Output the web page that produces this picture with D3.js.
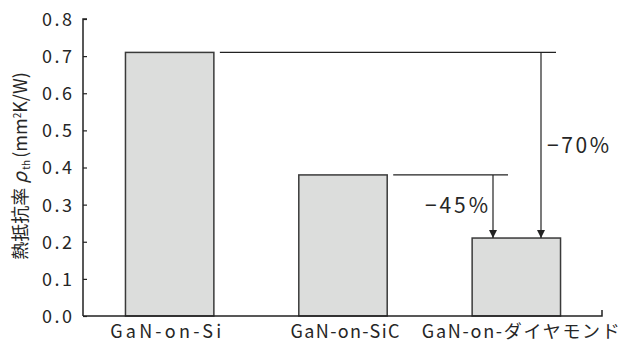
<!DOCTYPE html>
<html><head><meta charset="utf-8">
<script src="https://cdn.jsdelivr.net/npm/d3@7/dist/d3.min.js"></script>
<style>
body{margin:0;background:#fff;}
text, tspan{font-family:"Noto Sans CJK JP","Noto Sans",sans-serif;fill:#262626;}
</style></head><body>
<svg id="c" width="630" height="345"></svg>
<script>
const categories = ["GaN-on-Si", "GaN-on-SiC", "GaN-on-ダイヤモンド"];
const values = [0.71, 0.38, 0.21];
const yTicks = [0, 0.1, 0.2, 0.3, 0.4, 0.5, 0.6, 0.7, 0.8];
const reductions = [{from: 1, to: 2, label: "−45%"}, {from: 0, to: 2, label: "−70%"}];

const svg = d3.select("#c");
const x = d3.scaleBand().domain(categories).range([83, 603]).paddingInner(0.49).paddingOuter(0.245);
const y = d3.scaleLinear().domain([0, 0.8]).range([316, 19]);

// bars
svg.selectAll("rect.bar").data(values).enter().append("rect")
  .attr("x", (d, i) => x(categories[i]))
  .attr("y", d => y(d))
  .attr("width", x.bandwidth())
  .attr("height", d => y(0) - y(d))
  .attr("fill", "#dcdddc").attr("stroke", "#3a3a3a").attr("stroke-width", 1.5);

// y axis
const yAxis = d3.axisRight(y).tickValues(yTicks).tickSize(4).tickFormat(d3.format(".1f"));
const gy = svg.append("g").attr("transform", "translate(83,0)").call(yAxis);
gy.select(".domain").attr("stroke", "#222").attr("stroke-width", 1.5).attr("d", `M4,${y(0.8)}H0V${y(0)}`);
gy.selectAll(".tick line").attr("stroke", "#222").attr("stroke-width", 1.2);
gy.selectAll(".tick text").attr("x", -11).attr("text-anchor", "end").attr("dy", "0.36em")
  .attr("textLength", 30).attr("lengthAdjust", "spacing")
  .style("font-size", "18px").style("fill", "#262626");

// x axis
svg.append("path").attr("d", `M83,${y(0)}H602V${y(0) - 6}`).attr("fill", "none").attr("stroke", "#222").attr("stroke-width", 1.5);
const xLabelWidth = [111, 109, 198];
const xLabelShift = [-4, 2, 4.5];
svg.selectAll("text.xl").data(categories).enter().append("text")
  .attr("x", (d, i) => x(d) + x.bandwidth() / 2 + xLabelShift[i] - xLabelWidth[i] / 2)
  .attr("y", 338).attr("text-anchor", "start")
  .attr("textLength", (d, i) => xLabelWidth[i]).attr("lengthAdjust", "spacing")
  .style("font-size", "18px").text(d => d);

// y title
const yt = svg.append("text").attr("transform", "translate(27,166) rotate(-90)").attr("text-anchor", "middle")
  .style("font-size", "18px").style("fill", "#262626");
yt.append("tspan").style("fill", "#262626").text("熱抵抗率 ");
yt.append("tspan").attr("font-style", "italic").style("font-size", "19px").style("fill", "#262626").text("ρ");
yt.append("tspan").attr("dy", "3").style("font-size", "10px").style("fill", "#262626").text(" th ");
yt.append("tspan").attr("dy", "-3").style("fill", "#262626").text("(mm");
yt.append("tspan").attr("dy", "-6").style("font-size", "10px").style("fill", "#262626").text("2");
yt.append("tspan").attr("dy", "6").style("fill", "#262626").text("K/W)");

// arrows
svg.append("defs").append("marker").attr("id", "ah").attr("viewBox", "0 0 10 10")
  .attr("refX", 10).attr("refY", 5).attr("markerWidth", 12).attr("markerHeight", 8)
  .attr("markerUnits", "userSpaceOnUse").attr("orient", "auto")
  .append("path").attr("d", "M0,0L10,5L0,10Z").attr("fill", "#222");

const arrowX = [493, 541];
const lineEnd = [508, 556];
reductions.forEach((r, i) => {
  const yv = y(values[r.from]);
  const xs = x(categories[r.from]) + x.bandwidth() + 6;
  svg.append("line").attr("x1", xs).attr("x2", lineEnd[i]).attr("y1", yv).attr("y2", yv).attr("stroke", "#222").attr("stroke-width", 1.2);
  svg.append("line").attr("x1", arrowX[i]).attr("x2", arrowX[i]).attr("y1", yv).attr("y2", y(values[r.to]))
    .attr("stroke", "#222").attr("stroke-width", 1.2).attr("marker-end", "url(#ah)");
});
svg.append("text").attr("x", 425).attr("y", 213).attr("textLength", 63).attr("lengthAdjust", "spacing")
  .style("font-size", "21px").text(reductions[0].label);
svg.append("text").attr("x", 547).attr("y", 153).attr("textLength", 62).attr("lengthAdjust", "spacing")
  .style("font-size", "21px").text(reductions[1].label);
</script></body></html>
